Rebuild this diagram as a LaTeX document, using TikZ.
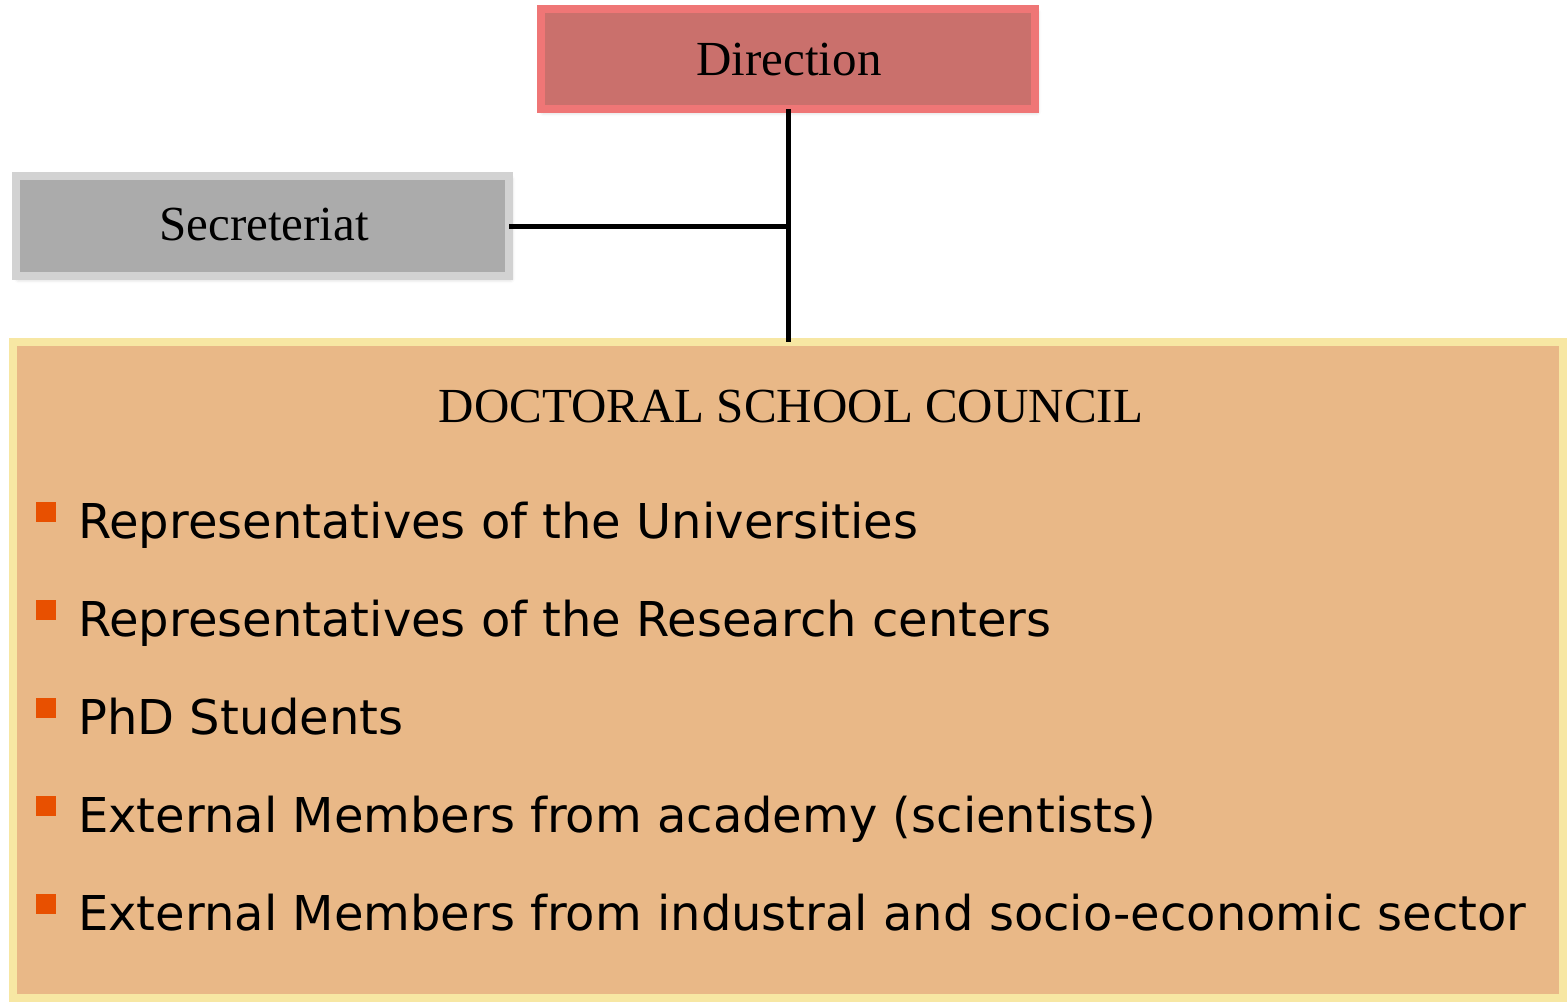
\documentclass[tikz,border=0pt]{standalone}
\usepackage{fontspec}
\setmainfont{Liberation Serif}
\newfontfamily\dejavu{DejaVu Sans}
\usetikzlibrary{shadows.blur}
\definecolor{dirfill}{HTML}{CA706C}
\definecolor{dirrim}{HTML}{EF7676}
\definecolor{secfill}{HTML}{ABABAB}
\definecolor{secrim}{HTML}{D2D2D2}
\definecolor{coufill}{HTML}{E9B887}
\definecolor{courim}{HTML}{F7E7A3}
\definecolor{bulletc}{HTML}{E85000}
\tikzset{
  bevelbox/.style={rectangle, inner sep=0pt, outer sep=0pt, line width=8pt},
  softshadow/.style={blur shadow={shadow xshift=2pt, shadow yshift=-3pt, shadow blur radius=4pt, shadow opacity=25}},
  link/.style={line width=5pt, black},
  bul/.style={rectangle, fill=bulletc, minimum width=20pt, minimum height=20pt, inner sep=0pt},
  item/.style={anchor=base west, inner sep=0pt, font=\dejavu\fontsize{48}{56}\selectfont},
  serifbig/.style={font=\fontsize{49}{58}\selectfont}
}
\begin{document}
\begin{tikzpicture}[x=1pt,y=-1pt]
\useasboundingbox (0,0) rectangle (1567,1002);
\node[bevelbox, softshadow, fill=dirfill, draw=dirrim, minimum width=494pt, minimum height=100pt] (dir) at (788,59) {};
\node[serifbig, anchor=base, inner sep=0pt] (dirt) at (789,75) {Direction};
\node[bevelbox, softshadow, fill=secfill, draw=secrim, minimum width=493pt, minimum height=100pt] (sec) at (262.5,226) {};
\node[serifbig, anchor=base, inner sep=0pt] (sect) at (264,240) {Secreteriat};
\node[bevelbox, fill=coufill, draw=courim, minimum width=1550pt, minimum height=656pt] (cou) at (788,670) {};
\node[serifbig, anchor=base, inner sep=0pt] (title) at (791,422) {DOCTORAL SCHOOL COUNCIL};
\draw[link] (dir.south) -- (cou.north);
\draw[link] (sec.east) -- (sec.east -| dir.south);
\foreach \i/\t in {0/{Representatives of the Universities},1/{Representatives of the Research centers},2/{PhD Students},3/{External Members from academy (scientists)},4/{External Members from industral and socio-economic sector}}{
  \node[bul] (b\i) at (46,{512+98*\i}) {};
  \node[item] (t\i) at (78,{538+98*\i}) {\t};
}
\end{tikzpicture}
\end{document}
